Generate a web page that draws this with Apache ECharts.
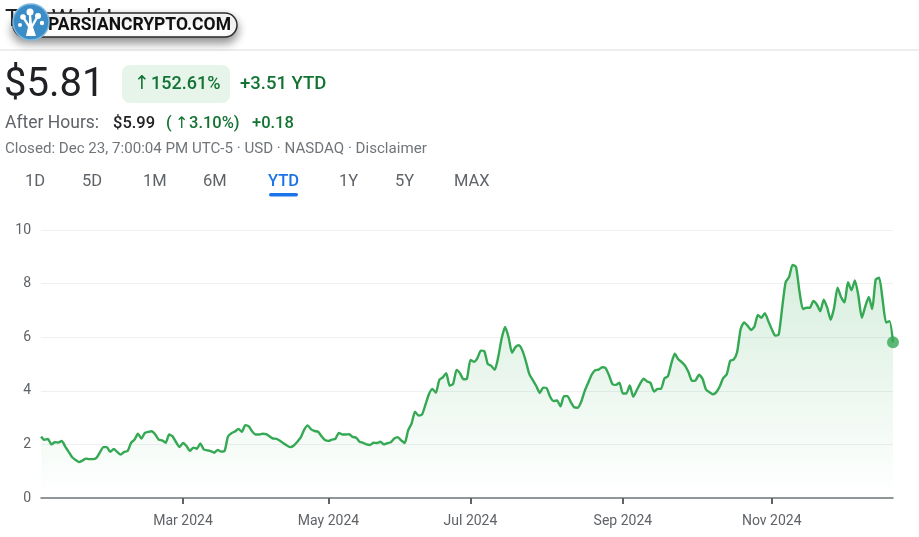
<!DOCTYPE html>
<html><head><meta charset="utf-8">
<script src="https://cdn.jsdelivr.net/npm/echarts@6/dist/echarts.min.js"></script>
<style>html,body{margin:0;padding:0;background:#fff}#c{width:919px;height:537px}</style>
</head><body><div id="c"></div>
<script>
// Daily closes, per month of trading days
const janPrices=[2.29,2.17,2.2,2.0,2.08,2.07,2.13,1.92,1.72,1.52,1.42,1.34,1.4,1.47,1.45,1.45,1.5,1.7,1.9,1.9,1.72];
const febPrices=[1.83,1.72,1.62,1.72,1.75,2.06,2.18,2.4,2.22,2.43,2.47,2.49,2.37,2.18,2.15,2.06,2.37,2.3,2.08,1.9];
const marPrices=[2.05,1.94,1.76,1.88,1.84,2.04,1.81,1.78,1.75,1.69,1.79,1.73,1.75,2.3,2.42,2.48,2.58,2.47,2.72,2.67];
const aprPrices=[2.48,2.37,2.37,2.4,2.38,2.3,2.22,2.21,2.14,2.04,1.96,1.9,1.96,2.1,2.26,2.55,2.71,2.56,2.5,2.47,2.3,2.16];
const mayPrices=[2.13,2.18,2.21,2.43,2.37,2.37,2.38,2.28,2.25,2.1,2.06,2.0,1.98,2.06,2.05,2.1,2.0,2.05,2.08,2.22,2.27,2.15];
const junPrices=[2.05,2.52,2.78,3.22,3.08,3.11,3.48,3.87,4.07,3.93,4.4,4.5,4.66,4.19,4.26,4.78,4.65,4.43,4.46];
const julPrices=[5.15,5.08,5.22,5.5,5.48,5.0,4.93,4.78,5.25,5.95,6.38,6.0,5.42,5.63,5.7,5.5,5.1,4.62,4.4,4.18,3.92,4.12];
const augPrices=[4.1,3.78,3.62,3.64,3.42,3.8,3.8,3.57,3.38,3.37,3.6,4.0,4.3,4.6,4.77,4.79,4.88,4.85,4.58,4.25,4.22,4.3];
const sepPrices=[3.9,3.9,4.2,3.78,4.02,4.27,4.45,4.35,4.29,3.97,4.07,4.07,4.46,4.54,5.02,5.38,5.18,5.07,4.93,4.68];
const octPrices=[4.37,4.39,4.6,4.45,4.05,3.95,3.87,3.95,4.17,4.48,4.62,5.12,5.17,5.45,6.3,6.55,6.43,6.27,6.4,6.83,6.72,6.9,6.6];
const novPrices=[6.3,6.06,6.1,7.1,8.05,8.25,8.7,8.62,7.7,7.05,7.1,7.1,7.35,7.22,6.97,7.4,7.1,6.65,7.1,7.85];
const decPrices=[7.5,7.3,8.05,7.75,8.12,7.55,6.72,7.15,7.5,7.05,8.15,8.22,7.4,6.55,6.6,5.81];

const marketHolidays=['2024-01-01','2024-01-15','2024-02-19','2024-03-29','2024-05-27','2024-06-19','2024-07-04','2024-09-02','2024-11-28','2024-12-25'];
const tickLabels={'2024-03-01':'Mar 2024','2024-05-01':'May 2024','2024-07-01':'Jul 2024','2024-09-03':'Sep 2024','2024-11-01':'Nov 2024'};
const yTicks=[0,2,4,6,8,10];
const rangeTabs=['1D','5D','1M','6M','YTD','1Y','5Y','MAX'];

const closes=[].concat(janPrices,febPrices,marPrices,aprPrices,mayPrices,junPrices,julPrices,augPrices,sepPrices,octPrices,novPrices,decPrices);

// trading-day calendar (categories)
const dates=[];
{
  let d=new Date(Date.UTC(2024,0,2));
  const end=Date.UTC(2024,11,23);
  while(d.getTime()<=end){
    const s=d.toISOString().slice(0,10);
    const wd=d.getUTCDay();
    if(wd!==0&&wd!==6&&marketHolidays.indexOf(s)<0) dates.push(s);
    d=new Date(d.getTime()+86400000);
  }
}
const lastIdx=closes.length-1;

const chart=echarts.init(document.getElementById('c'),null,{renderer:'canvas'});
const F='Roboto, "Noto Sans", sans-serif';
const green='#137333';
const tabX=[25,82,143,203,268,339,395,454];

function txt(x,y,text,fill,font,z){
  return {type:'text',x:x,y:y,z:z||1,style:{text:text,fill:fill,font:font,verticalAlign:'middle',align:'left'}};
}

const graphics=[
  txt(5,20,'TeraWulf Inc','#202124','400 24px '+F,1),
  {type:'rect',shape:{x:13,y:13,width:224,height:24,r:12},style:{fill:'#fff',stroke:'#2b2b2b',lineWidth:1.5,shadowBlur:10,shadowOffsetY:5,shadowColor:'rgba(0,0,0,0.45)'},z:5},
  txt(48,25.5,'PARSIANCRYPTO.COM','#111','bold 17.5px '+F,6),
  {type:'circle',shape:{cx:31,cy:22,r:18},style:{fill:'#3a8dc6',stroke:'#7fb9e0',lineWidth:1.5},z:7},
  {type:'polygon',shape:{points:[[26,36],[36,36],[33,27],[38,18],[36,17],[32,24],[31,14],[29,14],[29,24],[25,18],[23,19],[28,27]]},style:{fill:'#fff'},z:8},
  {type:'circle',shape:{cx:30,cy:12,r:3.5},style:{fill:'#fff'},z:8},
  {type:'circle',shape:{cx:38,cy:16,r:3},style:{fill:'#fff'},z:8},
  {type:'circle',shape:{cx:23,cy:17,r:2.8},style:{fill:'#fff'},z:8},
  {type:'circle',shape:{cx:42,cy:23,r:2.2},style:{fill:'#fff'},z:8},
  {type:'circle',shape:{cx:20,cy:25,r:2},style:{fill:'#fff'},z:8},
  {type:'line',shape:{x1:0,y1:50,x2:919,y2:50},style:{stroke:'#dadce0',lineWidth:1},z:1},
  txt(4,86,'$'+closes[lastIdx].toFixed(2),'#202124','400 40px '+F),
  {type:'rect',shape:{x:122,y:65,width:108,height:38,r:8},style:{fill:'#e6f4ea'}},
  txt(134,84,'↑','#137333','500 19px "DejaVu Sans", sans-serif'),
  txt(151,84,'152.61%',green,'500 18px '+F),
  txt(240,84,'+3.51 YTD',green,'500 18.5px '+F),
  txt(5,124,'After Hours:','#5f6368','400 17.5px '+F),
  txt(113,124,'$5.99','#202124','500 16.5px '+F),
  txt(166,124,'(',green,'500 16.5px '+F),
  txt(175,124,'↑',green,'500 16px "DejaVu Sans", sans-serif'),
  txt(189,124,'3.10%)',green,'500 16.5px '+F),
  txt(252,124,'+0.18',green,'500 16.5px '+F),
  txt(5,149,'Closed: Dec 23, 7:00:04 PM UTC-5 · USD · NASDAQ · Disclaimer','#70757a','400 15.1px '+F),
  {type:'rect',shape:{x:269,y:193,width:29,height:3.5,r:2},style:{fill:'#1a73e8'}}
];
rangeTabs.forEach((t,i)=>{
  graphics.push(txt(tabX[i],181.5,t,t==='YTD'?'#1a73e8':'#5f6368',(t==='YTD'?'500 ':'400 ')+'16.5px '+F));
});

const isTick=(i,v)=>Object.prototype.hasOwnProperty.call(tickLabels,v);

chart.setOption({
  animation:false,
  backgroundColor:'#fff',
  textStyle:{fontFamily:F},
  grid:{left:41,right:26,top:230,bottom:39,containLabel:false,outerBoundsMode:'none'},
  xAxis:{
    type:'category',data:dates,boundaryGap:false,
    axisLine:{lineStyle:{color:'#70757a',width:1.5}},
    axisTick:{show:true,interval:isTick,length:6,lineStyle:{color:'#5f6368',width:2}},
    axisLabel:{interval:isTick,formatter:v=>tickLabels[v]||'',color:'#5f6368',fontSize:14,margin:16,fontFamily:F},
    splitLine:{show:false}
  },
  yAxis:{
    type:'value',min:yTicks[0],max:yTicks[yTicks.length-1],interval:2,
    axisLine:{show:false},axisTick:{show:false},
    axisLabel:{color:'#5f6368',fontSize:14,margin:10,fontFamily:F},
    splitLine:{lineStyle:{color:'#eef0f2',width:1}}
  },
  series:[
    {type:'line',data:closes,symbol:'none',smooth:0.2,
     lineStyle:{color:'#34a853',width:2.4},
     areaStyle:{color:new echarts.graphic.LinearGradient(0,0,0,1,[{offset:0,color:'rgba(52,168,83,0.28)'},{offset:1,color:'rgba(52,168,83,0)'}])},
     z:2},
    {type:'scatter',data:[[dates[lastIdx],closes[lastIdx]]],symbolSize:12,itemStyle:{color:'#34a853'},z:3}
  ],
  graphic:graphics
});
</script></body></html>
